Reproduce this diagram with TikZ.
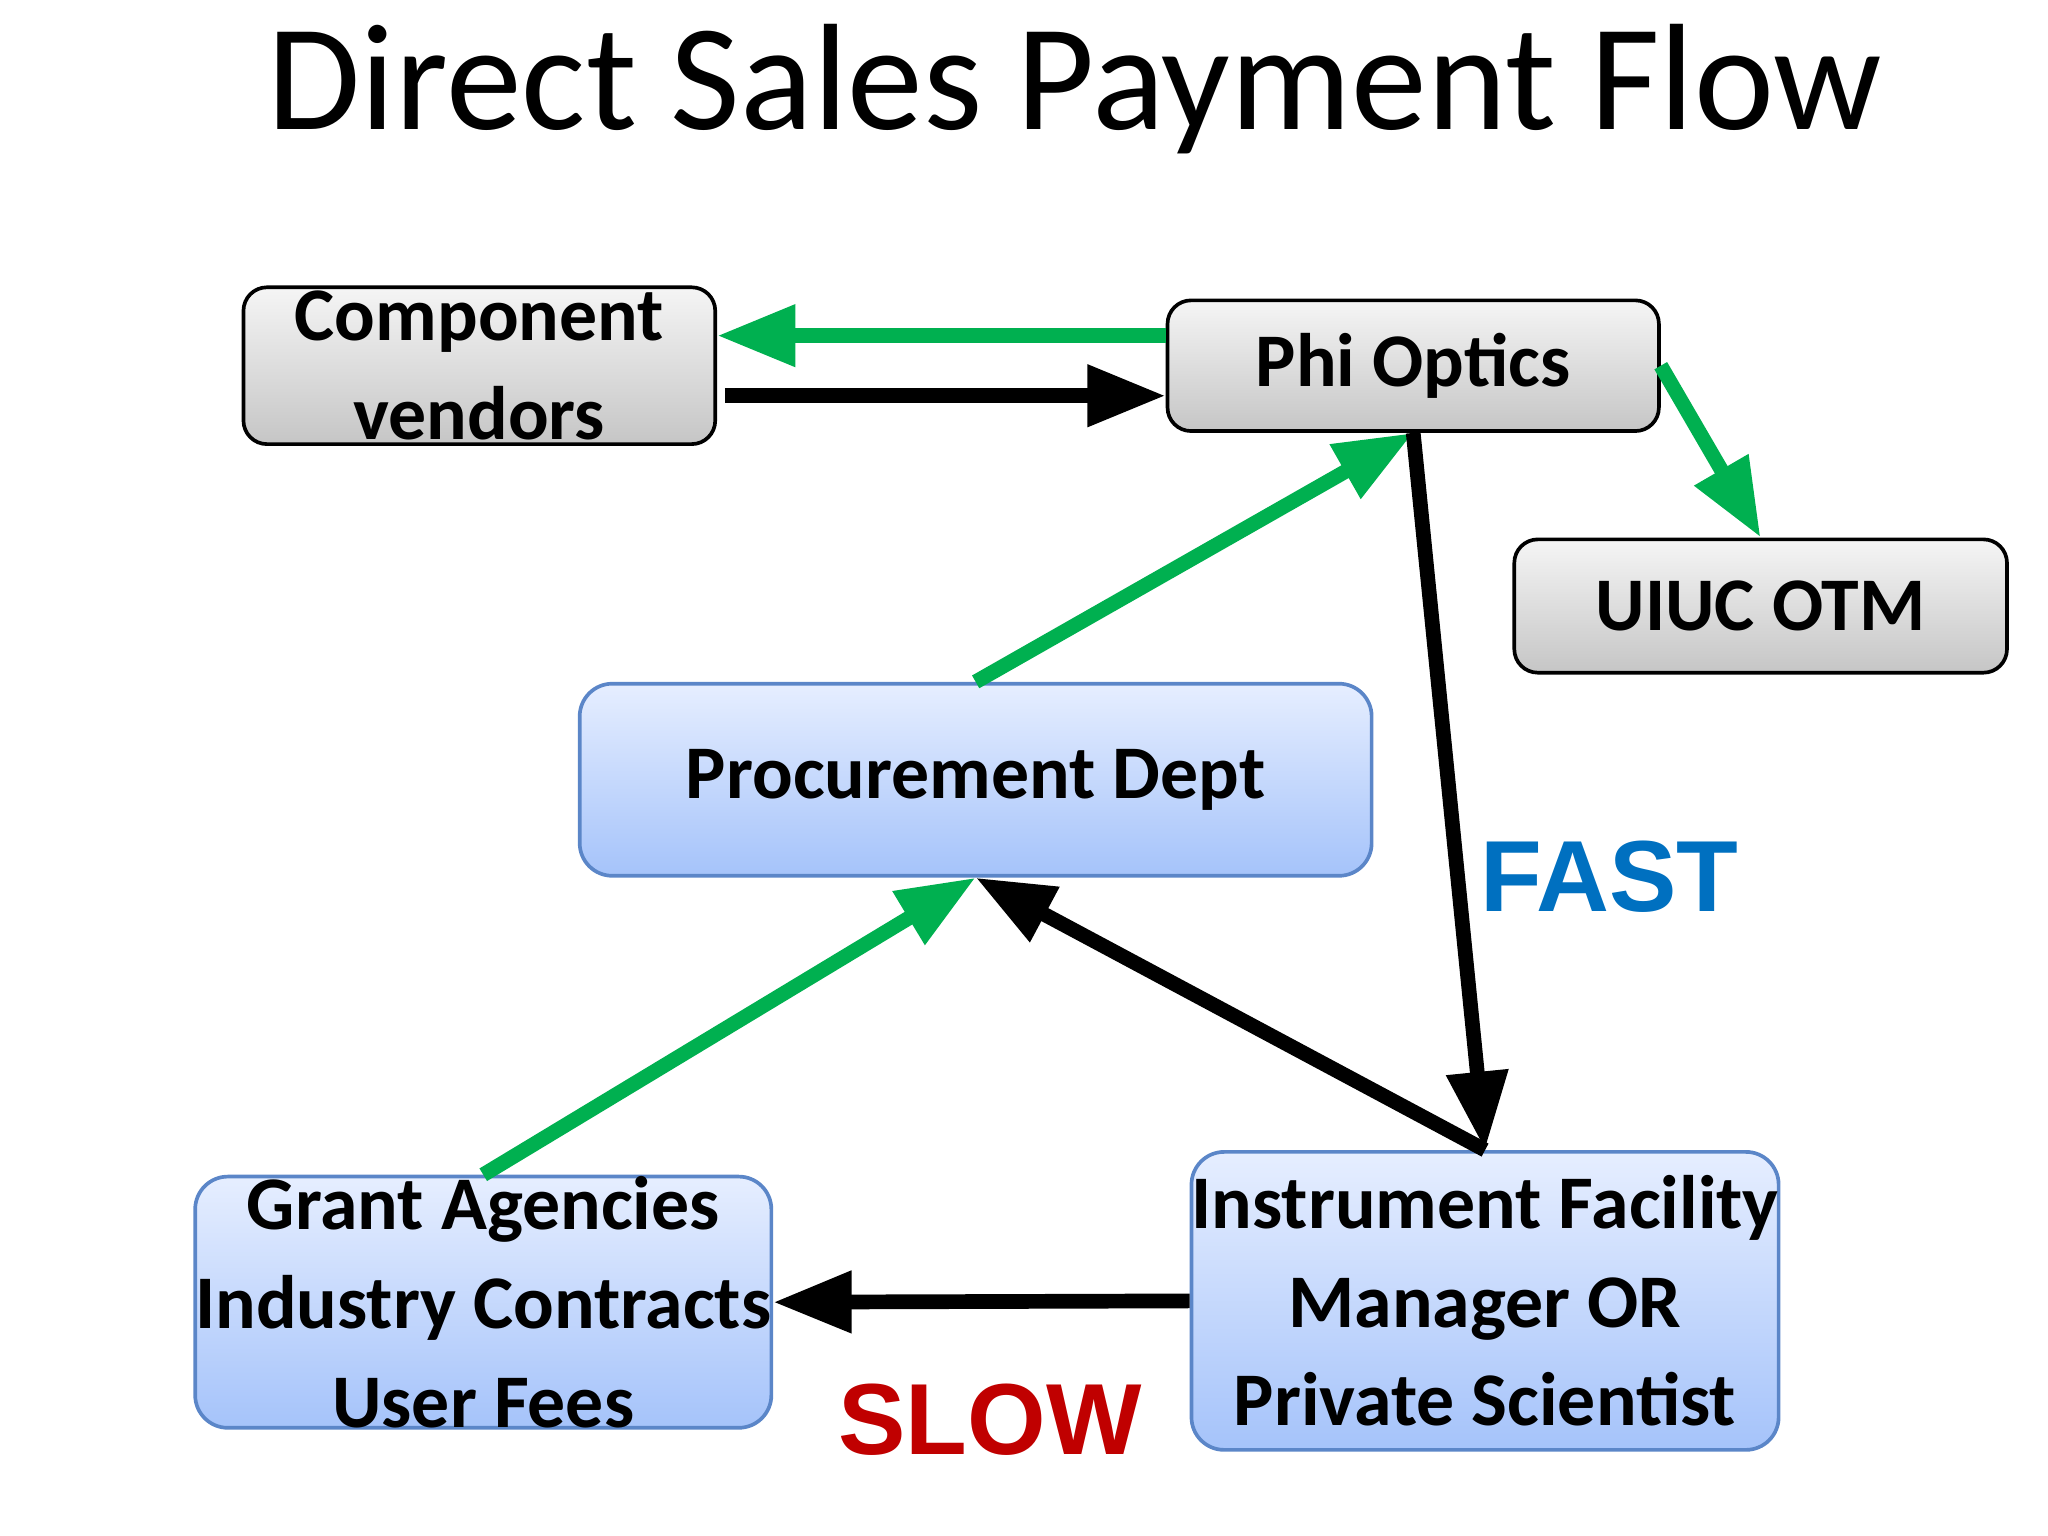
\documentclass[tikz,border=0pt]{standalone}
\usepackage{fontspec}
\setmainfont{Carlito}
\newfontfamily\arialb{Liberation Sans}[Scale=1]
\usetikzlibrary{arrows.meta}
\definecolor{grn}{HTML}{00B050}
\definecolor{fastc}{HTML}{0070C0}
\definecolor{slowc}{HTML}{C00000}
\definecolor{btop}{HTML}{E6EEFF}
\definecolor{bbot}{HTML}{A5C3FA}
\definecolor{bdr}{HTML}{5B86C8}
\tikzset{
 graybox/.style={draw=black,line width=0.8pt,rounded corners=0.18cm,top color=gray!8,bottom color=gray!45,inner sep=0,font=\fontsize{16.5}{21.5}\selectfont\bfseries,align=center},
 bluebox/.style={draw=bdr,line width=0.8pt,rounded corners=0.25cm,top color=btop,bottom color=bbot,inner sep=0,font=\fontsize{16.5}{21.5}\selectfont\bfseries,align=center},
 garr/.style={draw=grn,line width=3.2pt,-{Triangle[length=0.6cm,width=0.45cm]}},
 barr/.style={draw=black,line width=3.2pt,-{Triangle[length=0.6cm,width=0.45cm]}},
}
\begin{document}
\begin{tikzpicture}[x=0.01cm,y=-0.01cm]
\useasboundingbox (0,0) rectangle (1568,1176);
\node (title) at (823,68) {\fontsize{33}{38}\selectfont Direct Sales Payment Flow};
\node[graybox,minimum width=3.61cm,minimum height=1.2cm] (cv) at (367,280) {Component\\vendors};
\node[graybox,minimum width=3.76cm,minimum height=1.0cm] (phi) at (1082,280) {Phi Optics};
\node[graybox,minimum width=3.77cm,minimum height=1.02cm] (otm) at (1348,464) {UIUC OTM};
\node[bluebox,minimum width=6.06cm,minimum height=1.47cm] (proc) at (747,597) {Procurement Dept};
\node[bluebox,minimum width=4.23cm,minimum height=1.57cm] (grant) at (370,997) {Grant Agencies\\Industry Contracts\\User Fees};
\node[bluebox,minimum width=4.32cm,minimum height=2.28cm] (inst) at (1137,996) {Instrument Facility\\Manager OR\\Private Scientist};
\draw[garr] (phi.west|-0,257) -- (cv.east|-0,257);
\draw[barr] (555,303) -- (phi.west|-0,303);
\draw[garr] (phi.east|-0,280) -- (otm.north);
\draw[garr] (proc.north) -- (phi.south);
\draw[barr] (phi.south) -- (inst.north);
\draw[barr] (inst.north) -- (proc.south);
\draw[garr] (grant.north) -- (proc.south);
\draw[barr] (inst.west) -- (grant.east);
\node[text=fastc,font=\arialb\bfseries\fontsize{22}{26}\selectfont] (fast) at (1232,671) {FAST};
\node[text=slowc,font=\arialb\bfseries\fontsize{22}{26}\selectfont] (slow) at (758,1087) {SLOW};
\end{tikzpicture}
\end{document}
